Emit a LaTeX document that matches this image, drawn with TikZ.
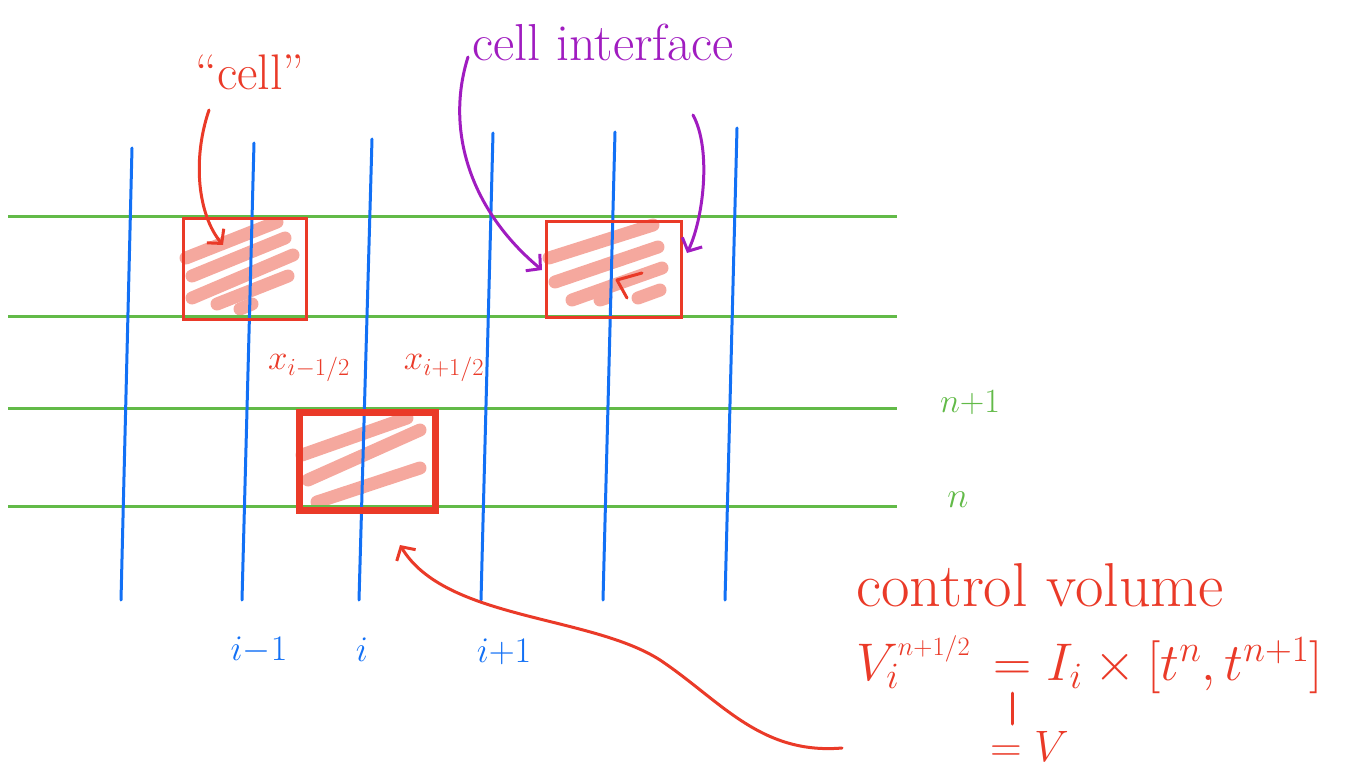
\RequirePackage{fix-cm}
\documentclass[tikz,border=0pt]{standalone}
\usetikzlibrary{arrows.meta}
\definecolor{gridgreen}{RGB}{98,186,72}
\definecolor{gridblue}{RGB}{18,112,245}
\definecolor{inkred}{RGB}{234,58,40}
\definecolor{hatchpink}{RGB}{245,168,158}
\definecolor{inkpurple}{RGB}{160,28,192}
\tikzset{
  hline/.style={gridgreen, line width=3pt},
  vline/.style={gridblue, line width=3pt, line cap=round},
  hatch/.style={hatchpink, line width=13pt, line cap=round},
  thinbox/.style={draw=inkred, line width=3pt},
  thickbox/.style={draw=inkred, line width=7pt},
  redarrow/.style={inkred, line width=3pt, line cap=round, -{Straight Barb[length=10pt,width=22pt]}},
  purparrow/.style={inkpurple, line width=3pt, line cap=round, -{Straight Barb[length=10pt,width=22pt]}},
  redtxt/.style={text=inkred, inner sep=0pt},
  greentxt/.style={text=gridgreen, inner sep=0pt},
  bluetxt/.style={text=gridblue, inner sep=0pt},
  purptxt/.style={text=inkpurple, inner sep=0pt},
}
\begin{document}
\begin{tikzpicture}[x=1pt,y=-1pt]
\useasboundingbox (0,0) rectangle (1364,767);
% hatching
\draw[hatch] (186,258) -- (277,222);
\draw[hatch] (192,276) -- (285,238);
\draw[hatch] (192,298) -- (293,255);
\draw[hatch] (217,304) -- (288,276);
\draw[hatch] (240,309) -- (252,304);
\draw[hatch] (549,258) -- (653,225);
\draw[hatch] (555,282) -- (658,247);
\draw[hatch] (572,300) -- (662,268);
\draw[hatch] (600,300) -- (606,298);
\draw[hatch] (638,298) -- (660,290);
\draw[hatch] (302,455) -- (407,418);
\draw[hatch] (308,480) -- (420,430);
\draw[hatch] (317,502) -- (420,468);
% green lines
\foreach \yy in {217,316,408,506} \draw[hline] (8,\yy) -- (897,\yy);
% blue lines
\draw[vline] (132,148) -- (121,600);
\draw[vline] (254,143) -- (242,600);
\draw[vline] (372,139) -- (359,600);
\draw[vline] (493,133) -- (481,600);
\draw[vline] (615,132) -- (603,600);
\draw[vline] (737,128) -- (725,600);
% boxes
\node[thinbox, minimum width=123pt, minimum height=101pt, anchor=north west] (cell1) at (182,217) {};
\node[thinbox, minimum width=135pt, minimum height=96pt, anchor=north west] (cell2) at (545,220) {};
\node[thickbox, minimum width=136pt, minimum height=98pt, anchor=north west] (cv) at (296,409) {};
% small tick in cell2
\draw[inkred, line width=3pt, line cap=round, line join=round] (627,298) -- (617,280) -- (642,273);
% labels
\node[redtxt, font=\fontsize{50}{56}\selectfont] (cellLbl) at (250,72) {``cell''};
\node[purptxt, font=\fontsize{52}{58}\selectfont] (ifaceLbl) at (603,42) {cell interface};
\node[redtxt, font=\fontsize{35}{40}\selectfont] (xm) at (309,368) {$x_{i-1/2}$};
\node[redtxt, font=\fontsize{35}{40}\selectfont] (xp) at (444,368) {$x_{i+1/2}$};
\node[greentxt, font=\fontsize{34}{38}\selectfont] (np1) at (970,403) {$n{+}1$};
\node[greentxt, font=\fontsize{36}{40}\selectfont] (nlbl) at (958,500) {$n$};
\node[bluetxt, font=\fontsize{36}{40}\selectfont] (im1) at (259,650) {$i{-}1$};
\node[bluetxt, font=\fontsize{36}{40}\selectfont] (ilbl) at (362,650) {$i$};
\node[bluetxt, font=\fontsize{36}{40}\selectfont] (ip1) at (504,652) {$i{+}1$};
\node[redtxt, font=\fontsize{62}{68}\selectfont] (cvLbl) at (1040,585) {control volume};
\node[redtxt, font=\fontsize{53}{58}\selectfont, anchor=west] (formula) at (856,665) {$V_i^{\scriptscriptstyle n+1/2}\, = I_i \times [t^n, t^{n+1}]$};
\node[redtxt, font=\fontsize{44}{50}\selectfont, anchor=west] (eqV) at (990,746) {$= V$};
\coordinate (barTop) at (1012,693);
\coordinate (barBot) at (1012,724);
\draw[inkred, line width=3pt, line cap=round] (barTop) -- (barBot);
% arrows
\coordinate (a1s) at (209,110);
\coordinate (a1e) at (223,245);
\draw[redarrow] (a1s) .. controls (192,160) and (198,215) .. (a1e);
\coordinate (p1s) at (468,57);
\coordinate (p1e) at (542,270);
\draw[purparrow] (p1s) .. controls (445,130) and (470,210) .. (p1e);
\coordinate (p2s) at (693,115);
\coordinate (p2e) at (687,253);
\draw[purparrow] (p2s) .. controls (712,150) and (703,220) .. (p2e);
\coordinate (r1s) at (842,748);
\coordinate (r1m) at (660,660);
\coordinate (r1e) at (400,545);
\draw[redarrow] (r1s) .. controls (760,755) and (720,700) .. (r1m) .. controls (590,615) and (445,620) .. (r1e);
\end{tikzpicture}
\end{document}
